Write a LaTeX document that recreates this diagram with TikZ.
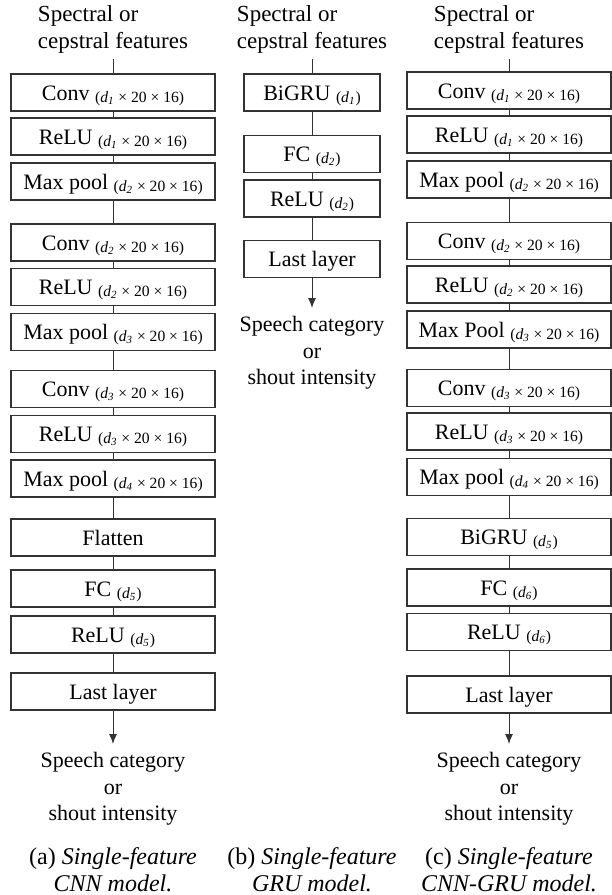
\documentclass[tikz,border=0pt]{standalone}
\usepackage{fontspec}
\setmainfont{Liberation Serif}
\usetikzlibrary{arrows.meta}

\newcommand{\lsize}[1]{\raisebox{-1pt}{\fontsize{7.8}{9}\selectfont(#1)}}
\newcommand{\dd}[1]{\textit{d\textsubscript{#1}}}

\tikzset{
    layer/.style={draw=black!80, line width=0.65pt, minimum width=102pt, minimum height=18.5pt, inner sep=0pt, text height=10.25pt, text depth=2.75pt, font=\fontsize{11}{13}\selectfont},
    gru layer/.style={layer, minimum width=68pt},
    link/.style={draw=black!80, line width=0.5pt},
    feat/.style={align=left, anchor=north, inner xsep=0pt, inner ysep=2.5pt, font=\fontsize{11.5}{13.75}\selectfont},
    target/.style={align=center, anchor=north, inner sep=4pt, font=\fontsize{11}{13.25}\selectfont},
    caption/.style={align=center, anchor=north, inner sep=0pt, font=\fontsize{12}{13.5}\selectfont},
}

\begin{document}
\begin{tikzpicture}[x=0.5pt, y=-0.5pt]
        \useasboundingbox (0,0) rectangle (611,895);

        % (a) CNN
        \node[feat] (a-in) at (113,0) {Spectral or\\cepstral features};
        \node[layer] (a1) at (113,92.5) {Conv \lsize{\dd{1} × 20 × 16}};
        \node[layer] (a2) at (113,136.5) {ReLU \lsize{\dd{1} × 20 × 16}};
        \node[layer] (a3) at (113,181.5) {Max pool \lsize{\dd{2} × 20 × 16}};
        \node[layer] (a4) at (113,242.5) {Conv \lsize{\dd{2} × 20 × 16}};
        \node[layer] (a5) at (113,287) {ReLU \lsize{\dd{2} × 20 × 16}};
        \node[layer] (a6) at (113,332) {Max pool \lsize{\dd{3} × 20 × 16}};
        \node[layer] (a7) at (113,389) {Conv \lsize{\dd{3} × 20 × 16}};
        \node[layer] (a8) at (113,434) {ReLU \lsize{\dd{3} × 20 × 16}};
        \node[layer] (a9) at (113,478.5) {Max pool \lsize{\dd{4} × 20 × 16}};
        \node[layer] (a10) at (113,537.5) {Flatten};
        \node[layer] (a11) at (113,588.5) {FC \lsize{\dd{5}}};
        \node[layer] (a12) at (113,634.5) {ReLU \lsize{\dd{5}}};
        \node[layer] (a13) at (113,691.5) {Last layer};
        \node[target] (a-out) at (113,744) {Speech category\\or\\shout intensity};
        \node[caption] (a-cap) at (113,847) {(a) \textit{Single-feature}\\\textit{CNN model.}};

        \draw[link] (a-in) -- (a1) -- (a2) -- (a3) -- (a4) -- (a5) -- (a6) -- (a7) -- (a8) -- (a9) -- (a10) -- (a11) -- (a12) -- (a13);
        \draw[link, -{Latex[length=5pt,width=4pt]}] (a13) -- (a-out);

        % (b) GRU
        \node[feat] (b-in) at (312,0) {Spectral or\\cepstral features};
        \node[gru layer] (b1) at (312,92.5) {BiGRU \lsize{\dd{1}}};
        \node[gru layer] (b2) at (312,154) {FC \lsize{\dd{2}}};
        \node[gru layer] (b3) at (312,198.5) {ReLU \lsize{\dd{2}}};
        \node[gru layer] (b4) at (312,259) {Last layer};
        \node[target] (b-out) at (312,308) {Speech category\\or\\shout intensity};
        \node[caption] (b-cap) at (312,847) {(b) \textit{Single-feature}\\\textit{GRU model.}};

        \draw[link] (b-in) -- (b1) -- (b2) -- (b3) -- (b4);
        \draw[link, -{Latex[length=5pt,width=4pt]}] (b4) -- (b-out);

        % (c) CNN-GRU
        \node[feat] (c-in) at (509,0) {Spectral or\\cepstral features};
        \node[layer] (c1) at (509,90.5) {Conv \lsize{\dd{1} × 20 × 16}};
        \node[layer] (c2) at (509,134.5) {ReLU \lsize{\dd{1} × 20 × 16}};
        \node[layer] (c3) at (509,179.5) {Max pool \lsize{\dd{2} × 20 × 16}};
        \node[layer] (c4) at (509,241) {Conv \lsize{\dd{2} × 20 × 16}};
        \node[layer] (c5) at (509,284.5) {ReLU \lsize{\dd{2} × 20 × 16}};
        \node[layer] (c6) at (509,329.5) {Max Pool \lsize{\dd{3} × 20 × 16}};
        \node[layer] (c7) at (509,388) {Conv \lsize{\dd{3} × 20 × 16}};
        \node[layer] (c8) at (509,431.5) {ReLU \lsize{\dd{3} × 20 × 16}};
        \node[layer] (c9) at (509,477) {Max pool \lsize{\dd{4} × 20 × 16}};
        \node[layer] (c10) at (509,537) {BiGRU \lsize{\dd{5}}};
        \node[layer] (c11) at (509,587.5) {FC \lsize{\dd{6}}};
        \node[layer] (c12) at (509,632) {ReLU \lsize{\dd{6}}};
        \node[layer] (c13) at (509,694.5) {Last layer};
        \node[target] (c-out) at (509,744) {Speech category\\or\\shout intensity};
        \node[caption] (c-cap) at (509,847) {(c) \textit{Single-feature}\\\textit{CNN-GRU model.}};

        \draw[link] (c-in) -- (c1) -- (c2) -- (c3) -- (c4) -- (c5) -- (c6) -- (c7) -- (c8) -- (c9) -- (c10) -- (c11) -- (c12) -- (c13);
        \draw[link, -{Latex[length=5pt,width=4pt]}] (c13) -- (c-out);

    \end{tikzpicture}
\end{document}
